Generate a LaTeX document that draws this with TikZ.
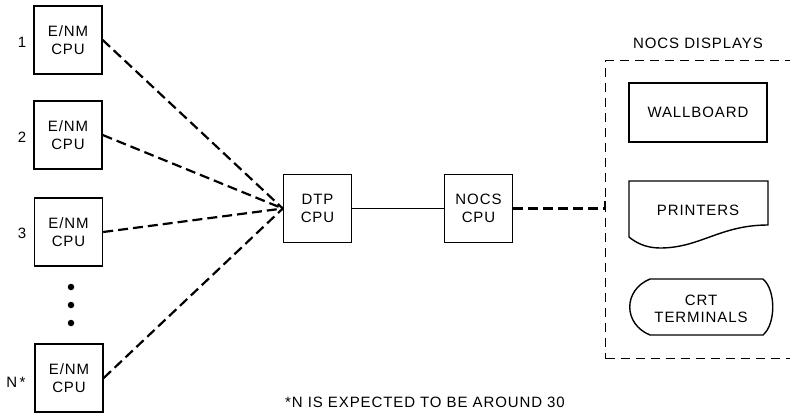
\documentclass[tikz,border=0pt]{standalone}
\usepackage{fontspec}
\setmainfont{Liberation Sans}[LetterSpace=6]
\begin{document}
\begin{tikzpicture}[x=1pt,y=-1pt,
  txt/.style={font=\fontsize{15}{17.5}\selectfont, align=center, inner sep=0pt},
  cpubox/.style={txt, draw, line width=1.4pt, minimum width=68pt, minimum height=68pt},
  conn/.style={line width=2.2pt, dash pattern=on 10pt off 5pt},
  dispbox/.style={draw, line width=1.2pt, dash pattern=on 9pt off 6pt, minimum width=200pt, minimum height=298pt, anchor=north west, inner sep=0pt},
  shapeline/.style={line width=1.4pt},
  dot/.style={circle, fill, inner sep=0pt, minimum size=6.5pt}]
\useasboundingbox (0,0) rectangle (790,416);
% left CPU boxes
\node[cpubox] (b1) at (68,40) {E/NM\\CPU};
\node[cpubox] (b2) at (68,135) {E/NM\\CPU};
\node[cpubox] (b3) at (68.5,232) {E/NM\\CPU};
\node[cpubox] (bn) at (69,378) {E/NM\\CPU};
\node[txt] (l1) at (22,42) {1};
\node[txt] (l2) at (22,137) {2};
\node[txt] (l3) at (22,233) {3};
\node[txt] (ln) at (16,382) {N\,*};
\node[dot] (d1) at (71,287) {};
\node[dot] (d2) at (71,305) {};
\node[dot] (d3) at (71,323) {};
% center
\node[cpubox] (dtp) at (317.5,208.5) {DTP\\CPU};
\node[cpubox] (nocs) at (478.5,208.5) {NOCS\\CPU};
% displays
\node[dispbox] (disp) at (605,60) {};
\node[txt] (dtitle) at (698,43) {NOCS DISPLAYS};
\node[txt, draw, line width=1.4pt, minimum width=138pt, minimum height=59pt] (wall) at (698,112.5) {WALLBOARD};
\draw[shapeline] (629,181) -- (768,181) -- (768,225)
  .. controls (720,225) and (700,248) .. (660,248)
  .. controls (645,248) and (635,242) .. (629,237) -- cycle;
\node[txt] (print) at (698,210) {PRINTERS};
\draw[shapeline] (650,279) -- (763,279)
  .. controls (776,290) and (776,324) .. (763,335) -- (650,335)
  .. controls (623,324) and (623,290) .. (650,279) -- cycle;
\node[txt] (crt) at (701,309) {CRT\\TERMINALS};
\node[txt] (foot) at (425,402) {*N IS EXPECTED TO BE AROUND 30};
% connectors
\draw[conn] (b1.east) -- (dtp.west);
\draw[conn] (b2.east) -- (dtp.west);
\draw[conn] (b3.east) -- (dtp.west);
\draw[conn] (bn.east) -- (dtp.west);
\draw[line width=1.8pt] (dtp.east) -- (nocs.east -| nocs.west);
\coordinate (dj) at (disp.west |- nocs.east);
\draw[conn] (nocs.east) -- (dj);
\draw[line width=1.4pt] (dj) -- ++(0,-8);
\end{tikzpicture}
\end{document}
